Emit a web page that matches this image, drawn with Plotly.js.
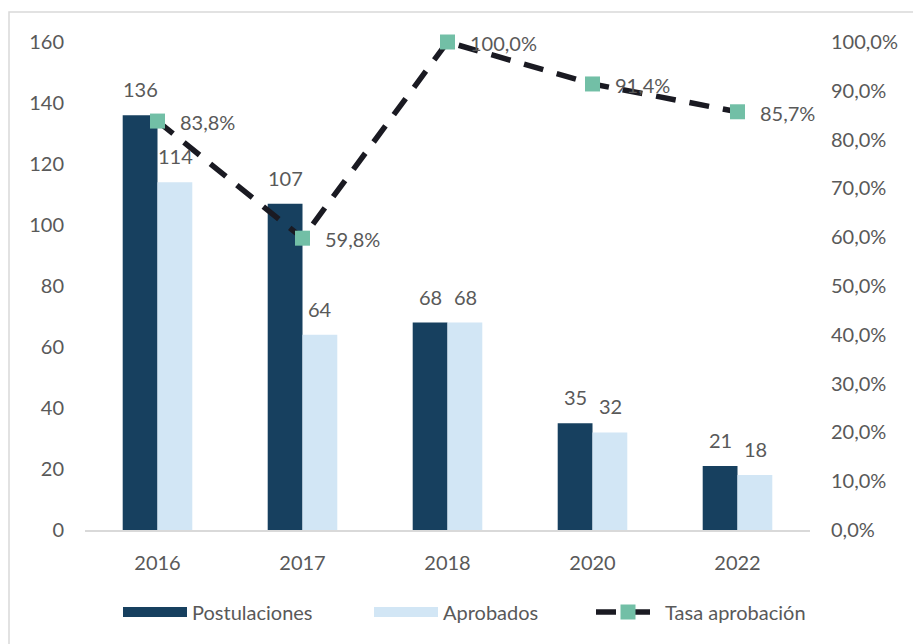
<!DOCTYPE html>
<html>
<head>
<meta charset="utf-8">
<script src="https://cdn.plot.ly/plotly-3.0.1.min.js"></script>
<style>html,body{margin:0;padding:0;background:#fff;}#chart{width:913px;height:644px;}</style>
</head>
<body>
<div id="chart"></div>
<script>
const years = ['2016', '2017', '2018', '2020', '2022'];
const postulaciones = [136, 107, 68, 35, 21];
const aprobados = [114, 64, 68, 32, 18];
const tasa = [0.838, 0.598, 1.0, 0.914, 0.857];
const seriesNames = ['Postulaciones', 'Aprobados', 'Tasa aprobación'];

const FONT = 'Lato, "Open Sans", sans-serif';
const TXT = '#595959';
const C_POST = '#17405f', C_APR = '#d2e6f5', C_LINE = '#1a1a22', C_MARK = '#72bfa6';
const L = 85, R = 810, T = 42, B = 530, W = 913, H = 644;
const pw = R - L, ph = B - T;

const traces = [
  {type: 'bar', name: seriesNames[0], x: years, y: postulaciones, showlegend: false,
   marker: {color: C_POST}, hoverinfo: 'y'},
  {type: 'bar', name: seriesNames[1], x: years, y: aprobados, showlegend: false,
   marker: {color: C_APR}, hoverinfo: 'y'},
  {type: 'scatter', mode: 'lines+markers', name: seriesNames[2], x: years, y: tasa,
   yaxis: 'y2', cliponaxis: false, legend: 'legend3',
   line: {color: C_LINE, width: 5.5, dash: '20px,14px'},
   marker: {symbol: 'square', size: 15, color: C_MARK}},
  // legend-only proxies giving the wide Excel-style swatches
  {type: 'scatter', mode: 'lines', name: seriesNames[0], x: [null], y: [null],
   legend: 'legend', line: {color: C_POST, width: 16}, hoverinfo: 'skip'},
  {type: 'scatter', mode: 'lines', name: seriesNames[1], x: [null], y: [null],
   legend: 'legend2', line: {color: C_APR, width: 16}, hoverinfo: 'skip'}
];

const fmtPct = v => (v * 100).toFixed(1).replace('.', ',') + '%';

const annotations = [];
years.forEach((yr, i) => {
  annotations.push({x: i, y: postulaciones[i], xref: 'x', yref: 'y', text: String(postulaciones[i]),
    showarrow: false, yanchor: 'bottom', yshift: 12, xshift: -17.5,
    font: {family: FONT, size: 20, color: TXT}});
  annotations.push({x: i, y: aprobados[i], xref: 'x', yref: 'y', text: String(aprobados[i]),
    showarrow: false, yanchor: 'bottom', yshift: 12, xshift: 17.5,
    font: {family: FONT, size: 20, color: TXT}});
  annotations.push({x: i, y: tasa[i], xref: 'x', yref: 'y2', text: fmtPct(tasa[i]),
    showarrow: false, xanchor: 'left', yanchor: 'middle', xshift: 20, yshift: -1,
    font: {family: FONT, size: 20, color: TXT}});
});

const IW = 64;
const K = IW + 10; // offset from legend left edge to text start
const legY = (B - 612) / ph;
const mkLegend = textStart => ({orientation: 'h', x: (textStart - K - L) / pw, xanchor: 'left',
  y: legY, yanchor: 'middle', itemwidth: IW, bgcolor: 'rgba(0,0,0,0)',
  font: {family: FONT, size: 20, color: TXT}});

const layout = {
  width: W, height: H,
  margin: {l: L, r: W - R, t: T, b: H - B, pad: 0},
  paper_bgcolor: '#fff', plot_bgcolor: '#fff',
  font: {family: FONT, size: 20, color: TXT},
  separators: ',.',
  barmode: 'group', bargap: 0.52, bargroupgap: 0,
  showlegend: true,
  legend: mkLegend(192),
  legend2: mkLegend(443),
  legend3: mkLegend(665),
  xaxis: {type: 'category', range: [-0.5, years.length - 0.5], autorange: false,
    showgrid: false, zeroline: false, showline: true,
    linecolor: '#d9d9d9', linewidth: 1.5, ticks: '', ticklabelstandoff: 14,
    tickfont: {family: FONT, size: 20, color: TXT}},
  yaxis: {range: [0, 160], autorange: false, dtick: 20, tick0: 0, showgrid: false, zeroline: false,
    showline: false, ticks: '', ticklabelstandoff: 20,
    tickfont: {family: FONT, size: 20, color: TXT}},
  yaxis2: {range: [0, 1], autorange: false, dtick: 0.1, tick0: 0, tickformat: '.1%', overlaying: 'y',
    side: 'right', showgrid: false, zeroline: false, showline: false, ticks: '',
    ticklabelstandoff: 20, tickfont: {family: FONT, size: 20, color: TXT}},
  annotations: annotations,
  shapes: [{type: 'rect', xref: 'paper', yref: 'paper', layer: 'below',
    x0: (9 - L) / pw, x1: (W + 5 - L) / pw, y0: (B - (H + 5)) / ph, y1: (B - 12) / ph,
    line: {color: '#d9d9d9', width: 1.5}, fillcolor: 'rgba(0,0,0,0)'}]
};

Plotly.newPlot('chart', traces, layout, {displayModeBar: false, staticPlot: true});
</script>
</body>
</html>
